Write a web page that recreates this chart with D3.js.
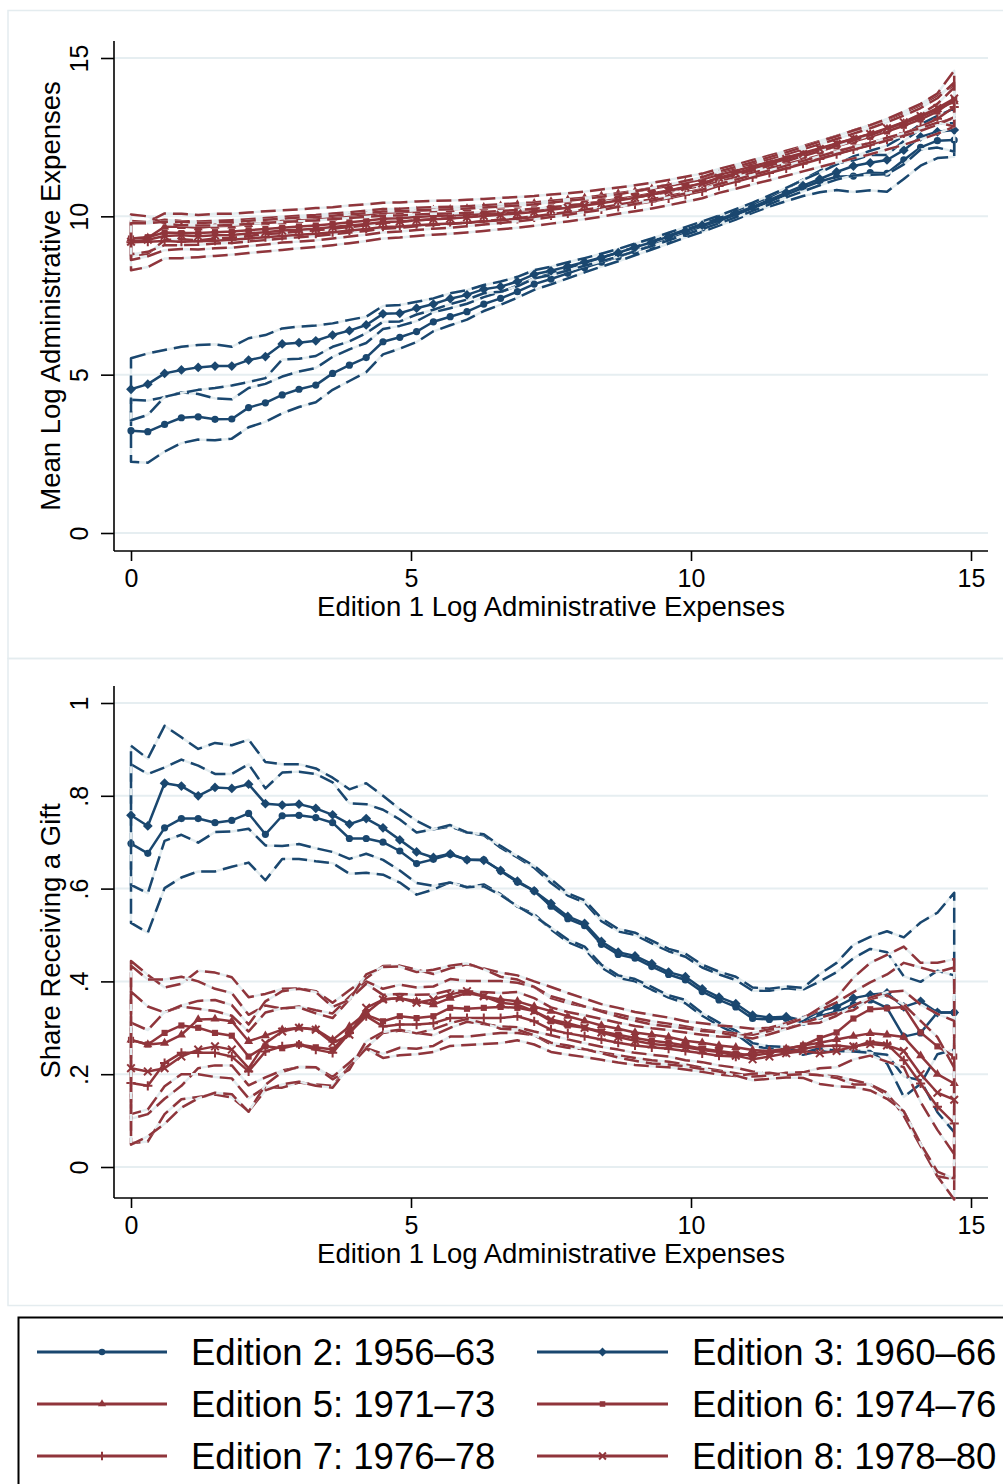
<!DOCTYPE html>
<html>
<head>
<meta charset="utf-8">
<script src="https://cdn.jsdelivr.net/npm/d3@7"></script>
<style>
  html, body { margin: 0; padding: 0; background: #ffffff; }
  svg { display: block; }
  text { font-family: "Liberation Sans", Arial, Helvetica, sans-serif; fill: #000; }
</style>
</head>
<body>
<svg id="chart" width="1003" height="1484"></svg>
<script>
// Edition 1 log administrative expenses (bin midpoints)
const xGrid = [0,0.3,0.6,0.9,1.2,1.5,1.8,2.1,2.4,2.7,3,3.3,3.6,3.9,4.2,4.5,4.8,5.1,5.4,5.7,
  6,6.3,6.6,6.9,7.2,7.5,7.8,8.1,8.4,8.7,9,9.3,9.6,9.9,10.2,10.5,10.8,11.1,11.4,11.7,
  12,12.3,12.6,12.9,13.2,13.5,13.8,14.1,14.4,14.7];

const xTicks = [0, 5, 10, 15];
const expTicks = [0, 5, 10, 15];
const giftTicks = [0, 0.2, 0.4, 0.6, 0.8, 1];
const giftTickLabels = ["0", ".2", ".4", ".6", ".8", "1"];

const editions = ["Edition 2: 1956\u201363", "Edition 3: 1960\u201366", "Edition 5: 1971\u201373",
  "Edition 6: 1974\u201376", "Edition 7: 1976\u201378", "Edition 8: 1978\u201380"];

// Mean log administrative expenses in later editions, with 95% CI half-widths
const ed2ExpMean = [3.23,3.20,3.43,3.64,3.67,3.59,3.60,3.96,4.11,4.36,4.54,4.67,5.04,5.30,5.54,6.04,6.18,6.36,6.67,6.83,
  6.99,7.23,7.41,7.62,7.86,8.02,8.20,8.38,8.55,8.72,8.90,9.08,9.27,9.46,9.64,9.84,10.04,10.25,10.46,10.68,
  10.90,11.10,11.25,11.27,11.38,11.36,11.78,12.18,12.39,12.41];
const ed2ExpMoe = [.98,.98,.86,.80,.72,.66,.62,.62,.60,.58,.56,.54,.52,.50,.46,.40,.36,.33,.30,.27,
  .25,.22,.20,.19,.18,.17,.16,.15,.14,.14,.13,.13,.13,.13,.13,.13,.14,.14,.15,.20,
  .26,.34,.42,.50,.56,.58,.60,.58,.55,.53];
const ed3ExpMean = [4.54,4.70,5.04,5.15,5.23,5.27,5.27,5.46,5.57,5.97,6.01,6.07,6.25,6.39,6.57,6.92,6.94,7.10,7.23,7.40,
  7.52,7.70,7.78,7.94,8.17,8.28,8.42,8.56,8.70,8.85,9.02,9.18,9.36,9.54,9.72,9.90,10.10,10.30,10.52,10.75,
  10.97,11.18,11.40,11.59,11.69,11.78,12.09,12.51,12.67,12.73];
const ed3ExpMoe = [.98,.97,.74,.73,.71,.69,.61,.69,.68,.49,.51,.48,.37,.34,.26,.25,.26,.20,.18,.17,
  .15,.13,.16,.15,.13,.13,.13,.12,.12,.12,.12,.12,.12,.12,.12,.12,.13,.13,.14,.15,
  .18,.20,.24,.30,.38,.45,.45,.40,.50,.68];
const ed5ExpMean = [9.30,9.32,9.67,9.68,9.64,9.69,9.70,9.75,9.80,9.83,9.87,9.91,9.95,10.00,10.05,10.11,10.13,10.17,10.20,10.22,
  10.25,10.29,10.33,10.37,10.41,10.47,10.52,10.58,10.65,10.72,10.79,10.87,10.96,11.06,11.16,11.31,11.44,11.58,11.72,11.86,
  12.00,12.15,12.30,12.45,12.60,12.76,12.94,13.14,13.38,13.62];
const ed5ExpMoe = [.55,.50,.42,.40,.40,.39,.38,.37,.36,.36,.35,.35,.34,.34,.33,.32,.31,.30,.29,.28,
  .27,.26,.25,.24,.23,.22,.21,.20,.20,.19,.19,.19,.19,.19,.19,.19,.19,.20,.20,.21,
  .22,.23,.24,.26,.28,.30,.33,.37,.44,.52];
const ed6ExpMean = [9.30,9.34,9.49,9.47,9.47,9.50,9.52,9.56,9.60,9.64,9.68,9.71,9.76,9.81,9.86,9.92,9.94,9.98,10.01,10.03,
  10.06,10.10,10.14,10.18,10.22,10.28,10.34,10.40,10.47,10.55,10.63,10.72,10.82,10.93,11.04,11.21,11.34,11.48,11.62,11.76,
  11.91,12.06,12.21,12.36,12.51,12.68,12.86,13.06,13.31,13.68];
const ed6ExpMoe = [.50,.46,.40,.38,.37,.36,.36,.35,.35,.34,.34,.33,.33,.32,.32,.31,.30,.29,.28,.27,
  .26,.25,.24,.23,.22,.21,.20,.19,.19,.18,.18,.18,.18,.18,.18,.18,.18,.19,.19,.20,
  .21,.22,.23,.25,.27,.29,.32,.36,.42,.55];
const ed7ExpMean = [9.18,9.20,9.22,9.20,9.21,9.23,9.26,9.30,9.34,9.38,9.42,9.45,9.50,9.55,9.60,9.66,9.68,9.72,9.75,9.77,
  9.80,9.84,9.88,9.92,9.97,10.03,10.09,10.15,10.22,10.30,10.38,10.47,10.57,10.68,10.79,10.96,11.09,11.23,11.37,11.51,
  11.66,11.81,11.96,12.11,12.26,12.43,12.62,12.83,13.08,13.45];
const ed7ExpMoe = [.88,.80,.55,.52,.50,.48,.47,.46,.45,.44,.43,.42,.41,.40,.38,.36,.35,.34,.33,.32,
  .31,.30,.29,.28,.27,.26,.25,.24,.23,.22,.22,.22,.22,.22,.22,.22,.22,.22,.23,.23,
  .24,.25,.26,.28,.30,.32,.36,.40,.47,.62];
const ed8ExpMean = [9.20,9.26,9.38,9.40,9.37,9.40,9.41,9.46,9.50,9.55,9.58,9.61,9.66,9.71,9.76,9.82,9.84,9.88,9.91,9.93,
  9.97,10.01,10.05,10.09,10.14,10.21,10.27,10.34,10.41,10.50,10.59,10.69,10.80,10.92,11.04,11.22,11.36,11.51,11.66,11.81,
  11.97,12.13,12.29,12.45,12.60,12.78,12.97,13.17,13.42,13.72];
const ed8ExpMoe = [.58,.52,.45,.43,.42,.41,.40,.40,.39,.38,.38,.37,.36,.35,.34,.33,.32,.31,.30,.29,
  .28,.27,.26,.25,.24,.23,.22,.21,.21,.20,.20,.20,.20,.20,.20,.20,.20,.20,.21,.21,
  .22,.23,.24,.26,.28,.30,.34,.38,.46,.88];

// Share of foundations receiving a gift, with 95% CI half-widths
const ed2GiftMean = [.697,.676,.731,.751,.751,.742,.747,.762,.717,.757,.758,.753,.742,.708,.708,.700,.681,.654,.663,.674,
  .662,.662,.638,.614,.595,.562,.535,.520,.480,.458,.450,.432,.415,.403,.378,.360,.345,.320,.318,.320,
  .312,.325,.335,.350,.360,.343,.281,.289,.333,.333];
const ed2GiftMoe = [.171,.171,.130,.127,.114,.105,.100,.106,.099,.093,.094,.094,.087,.076,.074,.070,.068,.067,.065,.060,
  .059,.053,.050,.053,.050,.050,.050,.050,.050,.050,.050,.050,.050,.050,.052,.055,.058,.060,.062,.065,
  .070,.075,.085,.100,.110,.120,.130,.110,.090,.080];
const ed3GiftMean = [.758,.735,.827,.821,.800,.818,.816,.825,.783,.780,.782,.773,.759,.739,.751,.731,.705,.679,.667,.675,
  .662,.661,.639,.616,.595,.568,.540,.525,.486,.463,.455,.438,.420,.410,.384,.366,.352,.327,.322,.324,
  .316,.336,.345,.364,.371,.375,.345,.357,.333,.333];
const ed3GiftMoe = [.150,.145,.124,.105,.101,.096,.093,.096,.090,.088,.086,.086,.080,.075,.076,.069,.066,.067,.061,.062,
  .059,.056,.053,.054,.054,.052,.050,.050,.050,.050,.050,.050,.050,.050,.052,.055,.058,.060,.062,.065,
  .070,.080,.095,.115,.125,.133,.150,.170,.215,.258];
const ed5GiftMean = [.274,.264,.267,.285,.318,.319,.314,.271,.283,.296,.300,.297,.274,.303,.332,.361,.364,.357,.350,.364,
  .375,.368,.361,.357,.346,.336,.325,.315,.305,.298,.290,.285,.280,.272,.268,.262,.258,.252,.250,.255,
  .262,.268,.275,.282,.288,.285,.280,.240,.200,.180];
const ed5GiftMoe = [.170,.150,.120,.110,.105,.100,.095,.095,.090,.088,.085,.082,.080,.078,.075,.072,.070,.068,.066,.064,
  .062,.060,.058,.056,.054,.052,.050,.048,.046,.045,.044,.043,.042,.042,.042,.043,.044,.046,.050,.055,
  .060,.070,.080,.095,.110,.130,.160,.190,.220,.250];
const ed6GiftMean = [.274,.264,.289,.305,.300,.289,.283,.238,.260,.256,.264,.258,.253,.292,.328,.314,.325,.321,.325,.343,
  .341,.343,.345,.343,.336,.314,.305,.300,.292,.285,.278,.272,.268,.262,.255,.250,.245,.240,.245,.255,
  .262,.278,.290,.320,.340,.342,.345,.290,.260,.238];
const ed6GiftMoe = [.160,.140,.115,.105,.100,.095,.092,.090,.088,.085,.082,.080,.078,.075,.072,.070,.068,.066,.064,.062,
  .060,.058,.056,.054,.052,.050,.048,.046,.045,.044,.043,.042,.041,.041,.041,.042,.043,.045,.048,.052,
  .058,.065,.075,.088,.100,.115,.130,.150,.180,.210];
const ed7GiftMean = [.181,.175,.224,.246,.246,.246,.238,.206,.249,.260,.264,.253,.246,.289,.325,.303,.307,.307,.310,.321,
  .321,.321,.321,.325,.314,.296,.288,.282,.275,.268,.262,.258,.255,.250,.245,.240,.238,.245,.250,.248,
  .255,.260,.262,.258,.270,.265,.230,.180,.130,.094];
const ed7GiftMoe = [.130,.120,.110,.100,.095,.090,.088,.086,.084,.082,.080,.078,.075,.072,.070,.068,.066,.064,.062,.060,
  .058,.056,.054,.052,.050,.048,.046,.045,.044,.043,.042,.041,.040,.040,.040,.041,.042,.044,.047,.050,
  .055,.062,.070,.080,.092,.105,.120,.135,.150,.120];
const ed8GiftMean = [.213,.206,.213,.238,.253,.260,.253,.213,.267,.292,.300,.296,.267,.285,.343,.361,.364,.354,.361,.372,
  .379,.368,.354,.350,.336,.318,.310,.300,.290,.280,.272,.265,.262,.258,.252,.248,.240,.232,.238,.245,
  .250,.245,.250,.260,.265,.262,.250,.200,.160,.145];
const ed8GiftMoe = [.165,.140,.120,.110,.105,.100,.096,.094,.090,.087,.084,.081,.078,.075,.072,.070,.068,.066,.064,.062,
  .060,.058,.056,.054,.052,.050,.048,.046,.045,.044,.043,.042,.041,.041,.041,.042,.043,.045,.048,.052,
  .058,.066,.076,.088,.100,.115,.130,.150,.170,.170];

// ---- styling ----
const NAVY = "#1a476f", MAROON = "#90353b";
const GRID = "#e6eef1", HALO = "#e3ecef", FRAME = "#e4ecef";
const seriesStyle = [
  { color: NAVY,   marker: "circle"   },
  { color: NAVY,   marker: "diamond"  },
  { color: MAROON, marker: "triangle" },
  { color: MAROON, marker: "square"   },
  { color: MAROON, marker: "plus"     },
  { color: MAROON, marker: "cross"    }
];

const svg = d3.select("#chart");
svg.append("rect").attr("width", 1003).attr("height", 1484).attr("fill", "#fff");

const x = d3.scaleLinear().domain([0, 15]).range([131, 971]);
const AXIS_LEFT = 114, AXIS_RIGHT = 988;

function drawMarker(g, type, cx, cy, color, s = 1) {
  const t = `translate(${cx},${cy})`;
  if (type === "circle") {
    g.append("circle").attr("cx", cx).attr("cy", cy).attr("r", 3.6 * s).attr("fill", color);
  } else if (type === "diamond") {
    g.append("path").attr("fill", color)
      .attr("d", d3.symbol().type(d3.symbolSquare).size(48 * s * s)()).attr("transform", t + " rotate(45)");
  } else if (type === "triangle") {
    g.append("path").attr("transform", t).attr("fill", color)
      .attr("d", d3.symbol().type(d3.symbolTriangle).size(36 * s * s)());
  } else if (type === "square") {
    g.append("path").attr("transform", t).attr("fill", color)
      .attr("d", d3.symbol().type(d3.symbolSquare).size(38 * s * s)());
  } else if (type === "plus") {
    const r = 4.6 * s;
    g.append("path").attr("transform", t).attr("stroke", color).attr("stroke-width", 2).attr("fill", "none")
      .attr("d", `M${-r},0H${r}M0,${-r}V${r}`);
  } else if (type === "cross") {
    const r = 3.8 * s;
    g.append("path").attr("transform", t).attr("stroke", color).attr("stroke-width", 2).attr("fill", "none")
      .attr("d", `M${-r},${-r}L${r},${r}M${-r},${r}L${r},${-r}`);
  }
}

function drawPanel(cfg) {
  const g = svg.append("g");
  const y = d3.scaleLinear().domain(cfg.domain).range(cfg.range);

  // outer region frame
  g.append("rect").attr("x", 8).attr("y", cfg.frameTop).attr("width", 1010).attr("height", cfg.frameBottom - cfg.frameTop)
    .attr("fill", "none").attr("stroke", FRAME).attr("stroke-width", 1.5);

  // gridlines
  g.append("g").selectAll("line").data(cfg.ticks).join("line")
    .attr("x1", AXIS_LEFT).attr("x2", AXIS_RIGHT)
    .attr("y1", d => y(d)).attr("y2", d => y(d))
    .attr("stroke", GRID).attr("stroke-width", 2);

  // y axis
  const yAxis = d3.axisLeft(y).tickValues(cfg.ticks).tickSize(13)
    .tickFormat((d, i) => cfg.tickLabels[i]);
  const ya = g.append("g").attr("transform", `translate(${AXIS_LEFT},0)`).call(yAxis);
  ya.select(".domain").remove();
  ya.selectAll(".tick line").attr("stroke", "#000").attr("stroke-width", 1.6);
  ya.selectAll(".tick text")
    .attr("font-size", 25).attr("fill", "#000").attr("text-anchor", "middle")
    .attr("x", null).attr("dy", null)
    .attr("transform", "translate(-26,0) rotate(-90)");
  g.append("line").attr("x1", AXIS_LEFT).attr("x2", AXIS_LEFT).attr("y1", cfg.plotTop).attr("y2", cfg.plotBottom)
    .attr("stroke", "#000").attr("stroke-width", 1.6);

  // x axis
  const xAxis = d3.axisBottom(x).tickValues(xTicks).tickSize(10).tickFormat(d3.format("d"));
  const xa = g.append("g").attr("transform", `translate(0,${cfg.plotBottom})`).call(xAxis);
  xa.select(".domain").remove();
  xa.selectAll(".tick line").attr("stroke", "#000").attr("stroke-width", 1.6);
  xa.selectAll(".tick text").attr("font-size", 25).attr("fill", "#000").attr("y", 36).attr("dy", null);
  g.append("line").attr("x1", AXIS_LEFT).attr("x2", AXIS_RIGHT).attr("y1", cfg.plotBottom).attr("y2", cfg.plotBottom)
    .attr("stroke", "#000").attr("stroke-width", 1.6);

  // axis titles
  g.append("text").attr("transform", `translate(60,${cfg.titleY}) rotate(-90)`)
    .attr("text-anchor", "middle").attr("font-size", 27.5).text(cfg.yTitle);
  g.append("text").attr("x", 551).attr("y", cfg.plotBottom + 65)
    .attr("text-anchor", "middle").attr("font-size", 27.5).text("Edition 1 Log Administrative Expenses");

  // series: CI band outline (dashed) plus mean line with markers
  const lineGen = d3.line().x(d => x(d[0])).y(d => y(d[1]));
  cfg.series.forEach((s, si) => {
    const st = seriesStyle[si];
    const upper = xGrid.map((xv, i) => [xv, s.mean[i] + s.moe[i]]);
    const lower = xGrid.map((xv, i) => [xv, s.mean[i] - s.moe[i]]).reverse();
    const dPath = lineGen(upper.concat(lower)) + "Z";
    const sg = g.append("g");
    sg.append("path").attr("d", dPath).attr("fill", "none").attr("stroke", HALO).attr("stroke-width", 2.4)
      .attr("stroke-linejoin", "round");
    sg.append("path").attr("d", dPath).attr("fill", "none").attr("stroke", st.color).attr("stroke-width", 2.5)
      .attr("stroke-dasharray", "15 7").attr("stroke-linejoin", "round");
    const pts = xGrid.map((xv, i) => [xv, s.mean[i]]);
    sg.append("path").attr("d", lineGen(pts)).attr("fill", "none").attr("stroke", st.color)
      .attr("stroke-width", 2.5).attr("stroke-linejoin", "round");
    pts.forEach(p => drawMarker(sg, st.marker, x(p[0]), y(p[1]), st.color));
  });
}

drawPanel({
  frameTop: 10.5, frameBottom: 658.5, plotTop: 41, plotBottom: 551,
  domain: [0, 15], range: [533, 58], ticks: expTicks, tickLabels: expTicks.map(String),
  yTitle: "Mean Log Administrative Expenses", titleY: 296,
  series: [
    { mean: ed2ExpMean, moe: ed2ExpMoe }, { mean: ed3ExpMean, moe: ed3ExpMoe },
    { mean: ed5ExpMean, moe: ed5ExpMoe }, { mean: ed6ExpMean, moe: ed6ExpMoe },
    { mean: ed7ExpMean, moe: ed7ExpMoe }, { mean: ed8ExpMean, moe: ed8ExpMoe }
  ]
});

drawPanel({
  frameTop: 658.5, frameBottom: 1305.5, plotTop: 686, plotBottom: 1198,
  domain: [0, 1], range: [1167, 703], ticks: giftTicks, tickLabels: giftTickLabels,
  yTitle: "Share Receiving a Gift", titleY: 941,
  series: [
    { mean: ed2GiftMean, moe: ed2GiftMoe }, { mean: ed3GiftMean, moe: ed3GiftMoe },
    { mean: ed5GiftMean, moe: ed5GiftMoe }, { mean: ed6GiftMean, moe: ed6GiftMoe },
    { mean: ed7GiftMean, moe: ed7GiftMoe }, { mean: ed8GiftMean, moe: ed8GiftMoe }
  ]
});

// legend
const lg = svg.append("g");
lg.append("rect").attr("x", 18.5).attr("y", 1317.5).attr("width", 1010).attr("height", 200)
  .attr("fill", "#fff").attr("stroke", "#000").attr("stroke-width", 2);
const legendCols = [{ x0: 37, x1: 167, tx: 191 }, { x0: 537, x1: 668, tx: 692 }];
const legendRows = [1352, 1404, 1456];
editions.forEach((label, i) => {
  const col = legendCols[i % 2], rowY = legendRows[Math.floor(i / 2)];
  const st = seriesStyle[i];
  lg.append("line").attr("x1", col.x0).attr("x2", col.x1).attr("y1", rowY).attr("y2", rowY)
    .attr("stroke", st.color).attr("stroke-width", 3);
  drawMarker(lg, st.marker, (col.x0 + col.x1) / 2, rowY, st.color, 0.9);
  lg.append("text").attr("x", col.tx).attr("y", rowY).attr("dy", "0.36em")
    .attr("font-size", 36.5).text(label);
});
</script>
</body>
</html>
